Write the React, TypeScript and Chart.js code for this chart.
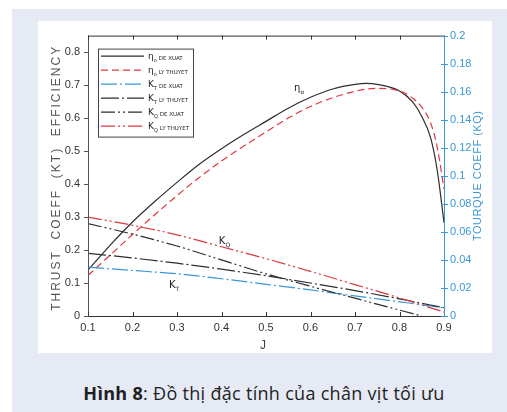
import React, { useEffect, useRef } from 'react';
import { Chart, registerables } from 'chart.js';

Chart.register(...registerables);

// ---- data ----
const J_ETA = [0.1, 0.15, 0.2, 0.25, 0.3, 0.35, 0.4, 0.45, 0.5, 0.55, 0.6, 0.65, 0.7, 0.725, 0.75, 0.8, 0.83, 0.85, 0.87, 0.885, 0.9];
const ETA_DE_XUAT = [0.139, 0.215, 0.285, 0.347, 0.405, 0.46, 0.507, 0.55, 0.59, 0.63, 0.663, 0.688, 0.702, 0.705, 0.702, 0.682, 0.648, 0.605, 0.54, 0.44, 0.283];
const ETA_LY_THUYET = [0.123, 0.185, 0.247, 0.307, 0.365, 0.42, 0.47, 0.515, 0.558, 0.6, 0.635, 0.662, 0.681, 0.688, 0.69, 0.682, 0.66, 0.633, 0.585, 0.51, 0.385];

const J_K = [0.1, 0.2, 0.3, 0.4, 0.5, 0.6, 0.7, 0.8, 0.9];
const KT_DE_XUAT = [0.148, 0.138, 0.128, 0.113, 0.096, 0.079, 0.061, 0.043, 0.025];
const KT_LY_THUYET = [0.19, 0.176, 0.16, 0.142, 0.122, 0.1, 0.077, 0.052, 0.025];
const J_KQ_DX = [0.1, 0.2, 0.3, 0.4, 0.5, 0.6, 0.7, 0.8, 0.85];
const KQ_DE_XUAT = [0.0659, 0.0584, 0.0499, 0.04, 0.0301, 0.0212, 0.0127, 0.0042, 0.0];
const KQ_LY_THUYET = [0.0706, 0.0647, 0.0579, 0.0494, 0.0409, 0.0318, 0.0224, 0.0129, 0.0028];

const X_TICKS = [0.1, 0.2, 0.3, 0.4, 0.5, 0.6, 0.7, 0.8, 0.9];
const LEFT_TICKS = [0, 0.1, 0.2, 0.3, 0.4, 0.5, 0.6, 0.7, 0.8];
const RIGHT_TICKS = [0, 0.02, 0.04, 0.06, 0.08, 0.1, 0.12, 0.14, 0.16, 0.18, 0.2];

const LEGEND_SYMBOLS = ['η', 'η', 'K', 'K', 'K', 'K'];
const LEGEND_SUBS = ['o', 'o', 'T', 'T', 'Q', 'Q'];
const LEGEND_TEXTS = ['DE XUAT', 'LY THUYET', 'DE XUAT', 'LY THUYET', 'DE XUAT', 'LY THUYET'];

const LEFT_TITLE = 'THRUST  COEFF  (KT)  EFFICIENCY';
const RIGHT_TITLE = 'TOURQUE COEFF (KQ)';
const X_TITLE = 'J';

const BLACK = '#2e2e2e';
const RED = '#e0383e';
const BLUE = '#3a98d8';

const DASHES: number[][] = [[], [7, 4], [16, 3, 2, 3], [18, 3, 2, 3], [14, 3, 2, 3, 2, 3], [14, 3, 2, 3, 2, 3]];
const COLORS = [BLACK, RED, BLUE, BLACK, BLACK, RED];

const pts = (xs: number[], ys: number[]) => xs.map((x, i) => ({ x, y: ys[i] }));

const fmtTick = (v: number) => (v === 0 ? '0' : String(Number(v.toFixed(2))));

const decorPlugin = {
  id: 'decor',
  afterDraw(chart: any) {
    const { ctx, chartArea: a, scales } = chart;
    const x = scales.x, y = scales.y, y1 = scales.y1;
    ctx.save();
    // frame
    ctx.lineWidth = 1;
    ctx.strokeStyle = '#333';
    ctx.beginPath();
    ctx.moveTo(a.left, a.top + 0.5); ctx.lineTo(a.right, a.top + 0.5);
    ctx.moveTo(a.left, a.bottom + 0.5); ctx.lineTo(a.right, a.bottom + 0.5);
    ctx.stroke();
    ctx.strokeStyle = '#555';
    ctx.beginPath();
    ctx.moveTo(a.left + 0.5, a.top); ctx.lineTo(a.left + 0.5, a.bottom + 1);
    ctx.stroke();
    // x ticks (inward, top & bottom)
    ctx.strokeStyle = '#333';
    ctx.beginPath();
    X_TICKS.forEach((v) => {
      const px = Math.round(x.getPixelForValue(v)) + 0.5;
      ctx.moveTo(px, a.bottom); ctx.lineTo(px, a.bottom - 4);
      ctx.moveTo(px, a.top); ctx.lineTo(px, a.top + 4);
    });
    ctx.stroke();
    // left ticks
    ctx.strokeStyle = '#555';
    ctx.beginPath();
    LEFT_TICKS.forEach((v) => {
      const py = Math.round(y.getPixelForValue(v)) + 0.5;
      ctx.moveTo(a.left - 4, py); ctx.lineTo(a.left, py);
    });
    ctx.stroke();
    // right axis
    ctx.strokeStyle = BLUE;
    ctx.beginPath();
    ctx.moveTo(a.right + 0.5, a.top); ctx.lineTo(a.right + 0.5, a.bottom + 1);
    RIGHT_TICKS.forEach((v) => {
      const py = Math.round(y1.getPixelForValue(v)) + 0.5;
      ctx.moveTo(a.right - 3, py); ctx.lineTo(a.right + 4, py);
    });
    ctx.stroke();

    // legend
    const bx = a.left + 10, by = a.top + 13, bw = 95, bh = 88;
    ctx.fillStyle = '#fff';
    ctx.fillRect(bx, by, bw, bh);
    ctx.strokeStyle = '#444';
    ctx.lineWidth = 1;
    ctx.strokeRect(bx + 0.5, by + 0.5, bw, bh);
    for (let i = 0; i < 6; i++) {
      const ry = by + 7 + i * 14 + 0.5;
      ctx.strokeStyle = COLORS[i];
      ctx.lineWidth = 1.2;
      ctx.setLineDash(DASHES[i]);
      ctx.beginPath();
      ctx.moveTo(bx + 3, ry); ctx.lineTo(bx + 46, ry);
      ctx.stroke();
      ctx.setLineDash([]);
      ctx.fillStyle = '#222';
      ctx.textBaseline = 'alphabetic';
      ctx.textAlign = 'left';
      ctx.font = '9px "DejaVu Sans"';
      const tx = bx + 50;
      ctx.fillText(LEGEND_SYMBOLS[i], tx, ry + 3);
      const sw = ctx.measureText(LEGEND_SYMBOLS[i]).width;
      ctx.font = '5px "DejaVu Sans"';
      ctx.fillText(LEGEND_SUBS[i], tx + sw, ry + 6);
      const subw = ctx.measureText(LEGEND_SUBS[i]).width;
      ctx.font = '5.5px "DejaVu Sans"';
      ctx.fillText(LEGEND_TEXTS[i], tx + sw + subw + 2, ry + 4);
    }

    // curve annotations
    const note = (sym: string, sub: string, jx: number, vy: number, scale: any) => {
      const px = x.getPixelForValue(jx), py = scale.getPixelForValue(vy);
      ctx.fillStyle = '#222';
      ctx.font = '10px "DejaVu Sans"';
      ctx.textAlign = 'left';
      ctx.fillText(sym, px - 4, py + 4);
      const w = ctx.measureText(sym).width;
      ctx.font = '6px "DejaVu Sans"';
      ctx.fillText(sub, px - 4 + w, py + 7);
    };
    note('η', 'o', 0.572, 0.695, y);
    note('K', 'Q', 0.403, 0.229, y);
    note('K', 'T', 0.291, 0.096, y);

    // axis titles
    ctx.fillStyle = '#555';
    ctx.font = '12px "Liberation Sans"';
    ctx.textAlign = 'center';
    ctx.textBaseline = 'middle';
    ctx.save();
    (ctx as any).letterSpacing = '2px';
    ctx.translate(19, (a.top + a.bottom) / 2 + 2);
    ctx.rotate(-Math.PI / 2);
    ctx.fillText(LEFT_TITLE, 0, 0);
    ctx.restore();
    ctx.fillStyle = BLUE;
    ctx.font = '11px "Liberation Sans"';
    ctx.save();
    (ctx as any).letterSpacing = '0.5px';
    ctx.translate(a.right + 34, (a.top + a.bottom) / 2);
    ctx.rotate(-Math.PI / 2);
    ctx.fillText(RIGHT_TITLE, 0, 0);
    ctx.restore();
    ctx.fillStyle = '#444';
    ctx.font = '12px "Liberation Sans"';
    ctx.fillText(X_TITLE, (a.left + a.right) / 2 - 3, a.bottom + 30);
    ctx.restore();
  },
};

function PropellerChart() {
  const ref = useRef<HTMLCanvasElement | null>(null);
  useEffect(() => {
    if (!ref.current) return;
    const ds = (label: string, data: any[], i: number, axis: string) => ({
      label,
      data,
      yAxisID: axis,
      borderColor: COLORS[i],
      borderWidth: 1.2,
      borderDash: DASHES[i],
      pointRadius: 0,
      fill: false,
      cubicInterpolationMode: 'monotone' as const,
    });
    const chart = new Chart(ref.current, {
      type: 'line',
      data: {
        datasets: [
          ds('KQ LY THUYET', pts(J_K, KQ_LY_THUYET), 5, 'y1'),
          ds('KQ DE XUAT', pts(J_KQ_DX, KQ_DE_XUAT), 4, 'y1'),
          ds('KT LY THUYET', pts(J_K, KT_LY_THUYET), 3, 'y'),
          ds('KT DE XUAT', pts(J_K, KT_DE_XUAT), 2, 'y'),
          ds('ETA LY THUYET', pts(J_ETA, ETA_LY_THUYET), 1, 'y'),
          ds('ETA DE XUAT', pts(J_ETA, ETA_DE_XUAT), 0, 'y'),
        ],
      },
      options: {
        responsive: false,
        animation: false,
        devicePixelRatio: 1,
        layout: { padding: { top: 13, left: 0, right: 0, bottom: 0 } },
        plugins: { legend: { display: false }, tooltip: { enabled: false } },
        scales: {
          x: {
            type: 'linear',
            min: 0.1,
            max: 0.9,
            grid: { display: false, drawTicks: false },
            border: { display: false },
            afterBuildTicks: (s: any) => { s.ticks = X_TICKS.map((v) => ({ value: v })); },
            afterFit: (s: any) => { s.height = 37; },
            ticks: {
              padding: 5,
              color: '#333',
              font: { family: 'Liberation Sans', size: 11 },
              maxRotation: 0,
              callback: (v: any) => Number(v).toFixed(1),
            },
          },
          y: {
            type: 'linear',
            position: 'left',
            min: 0,
            max: 0.85,
            grid: { display: false, drawTicks: false },
            border: { display: false },
            afterBuildTicks: (s: any) => { s.ticks = LEFT_TICKS.map((v) => ({ value: v })); },
            afterFit: (s: any) => { s.width = 50; },
            ticks: {
              padding: 8,
              color: '#333',
              font: { family: 'Liberation Sans', size: 11 },
              callback: (v: any) => fmtTick(Number(v)),
            },
          },
          y1: {
            type: 'linear',
            position: 'right',
            min: 0,
            max: 0.2,
            grid: { display: false, drawTicks: false },
            border: { display: false },
            afterBuildTicks: (s: any) => { s.ticks = RIGHT_TICKS.map((v) => ({ value: v })); },
            afterFit: (s: any) => { s.width = 48; },
            ticks: {
              padding: 6,
              color: BLUE,
              font: { family: 'Liberation Sans', size: 11 },
              callback: (v: any) => fmtTick(Number(v)),
            },
          },
        },
      },
      plugins: [decorPlugin],
    });
    return () => chart.destroy();
  }, []);
  return <canvas ref={ref} width={454} height={332} style={{ width: 454, height: 332, display: 'block' }} />;
}

export default function App() {
  return (
    <div style={{ position: 'absolute', left: 0, top: 0, width: 507, height: 412, background: '#fff', overflow: 'hidden' }}>
      <div style={{ position: 'absolute', left: 12, top: 9, right: 0, bottom: 0, background: '#e6eaf5' }} />
      <div style={{ position: 'absolute', left: 38, top: 21, width: 454, height: 332, background: '#fff' }}>
        <PropellerChart />
      </div>
      <div
        style={{
          position: 'absolute',
          left: 0,
          width: 528,
          top: 381,
          textAlign: 'center',
          fontFamily: '"Open Sans", sans-serif',
          fontSize: 18,
          letterSpacing: '0.3px',
          color: '#1e1e1e',
          lineHeight: '24px',
          whiteSpace: 'nowrap',
        }}
      >
        <b>Hình 8</b>: Đồ thị đặc tính của chân vịt tối ưu
      </div>
    </div>
  );
}
